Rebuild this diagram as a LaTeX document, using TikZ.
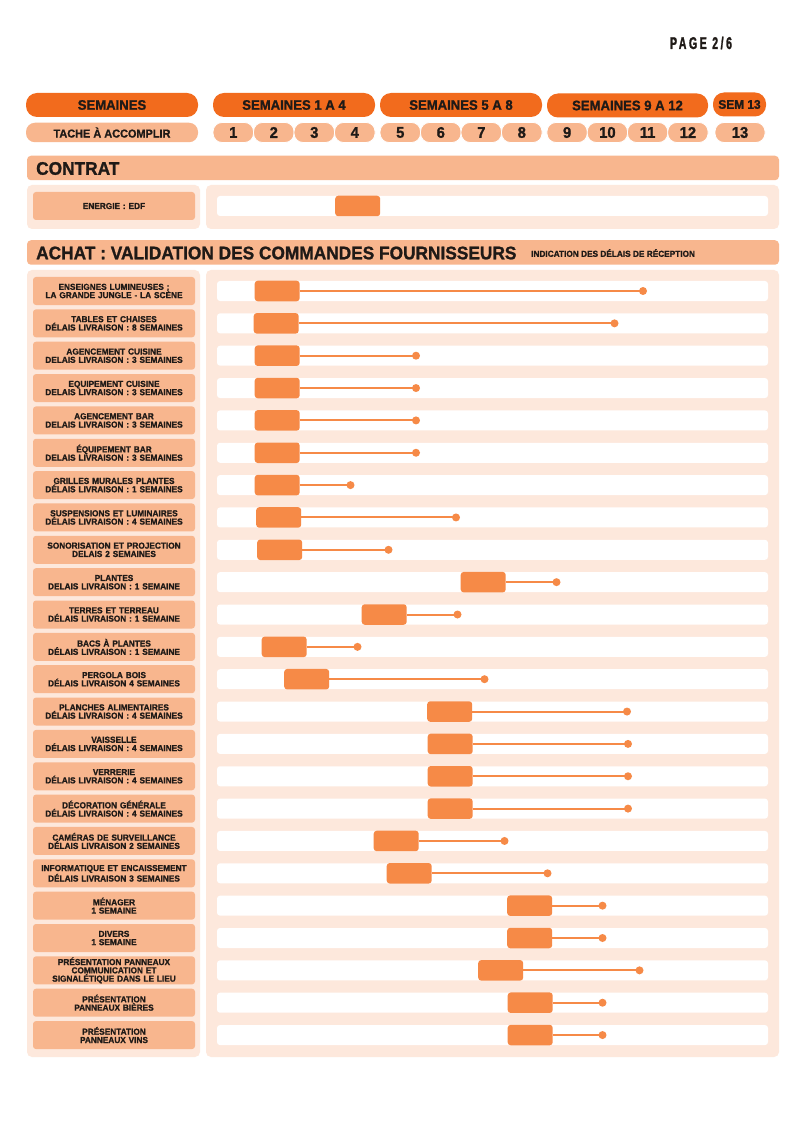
\documentclass[tikz,border=0pt]{standalone}
\usepackage{fontspec}
\setmainfont{Liberation Sans Bold}[FakeStretch=0.95,FakeBold=1.2]
\newfontfamily\pagefont{Liberation Sans Bold}[FakeStretch=0.62,LetterSpace=15,FakeBold=1.5]
\definecolor{dorange}{HTML}{F26B1D}
\definecolor{lorange}{HTML}{F8B68E}
\definecolor{panelc}{HTML}{FDE8DC}
\definecolor{blockc}{HTML}{F68A47}
\definecolor{ink}{HTML}{1F1A17}
\begin{document}
\begin{tikzpicture}[x=1pt,y=-1pt,
  hdr/.style={fill=dorange, rounded corners=11pt, minimum height=24pt, inner sep=0pt, text=ink, font=\fontsize{13.8}{13.8}\selectfont},
  tache/.style={fill=lorange, rounded corners=9pt, minimum height=19.5pt, inner sep=0pt, text=ink, font=\fontsize{11.5}{11.5}\selectfont},
  num/.style={fill=lorange, draw=white, line width=0.8pt, rounded corners=9pt, minimum height=20pt, inner sep=0pt, text=ink, font=\fontsize{15.5}{15.5}\selectfont},
  secbar/.style={fill=lorange, rounded corners=4pt, minimum width=752pt, minimum height=24.5pt, inner sep=0pt},
  sectitle/.style={anchor=west, inner sep=0pt, text=ink, font=\fontsize{18.2}{18.2}\selectfont},
  subtitle/.style={anchor=west, inner sep=0pt, text=ink, font=\fontsize{8.7}{8.7}\selectfont},
  panel/.style={fill=panelc, rounded corners=5pt, inner sep=0pt},
  lab/.style={fill=lorange, rounded corners=3pt, minimum width=162pt, minimum height=28pt, text width=160pt, align=center, inner sep=0pt, text=ink, font=\fontsize{8.7}{8.3}\selectfont},
  track/.style={fill=white, rounded corners=3pt, minimum width=551pt, minimum height=20pt, inner sep=0pt},
  blk/.style={fill=blockc, rounded corners=3pt, minimum width=45pt, minimum height=20.5pt, inner sep=0pt, anchor=west},
  enddot/.style={circle, fill=blockc, minimum size=8pt, inner sep=0pt},
  conn/.style={draw=blockc, line width=2pt}
]
\useasboundingbox (0,0) rectangle (800,1131);
\fill[white] (0,0) rectangle (800,1131);

% page number
\node[inner sep=0pt, text=ink, font=\pagefont\fontsize{17}{17}\selectfont] (page) at (701,43) {PAGE 2/6};

% header row 1
\node[hdr, minimum width=172pt] (h0) at (112,105) {SEMAINES};
\node[hdr, minimum width=162pt] (h1) at (294,105) {SEMAINES 1 A 4};
\node[hdr, minimum width=162pt] (h2) at (461,105) {SEMAINES 5 A 8};
\node[hdr, minimum width=161pt] (h3) at (627.5,105.5) {SEMAINES 9 A 12};
\node[hdr, minimum width=53pt, font=\fontsize{12.5}{12.5}\selectfont] (h4) at (739.5,104.5) {SEM 13};

% header row 2
\node[tache, minimum width=172pt] (t0) at (112,132.5) {TACHE À ACCOMPLIR};
\foreach \k/\cx/\w in {1/233.3/40.5, 2/273.8/40.5, 3/314.3/40.5, 4/354.8/40.5,
                      5/400.3/40.5, 6/440.8/40.5, 7/481.3/40.5, 8/521.8/40.5,
                      9/567.1/40.3, 10/607.4/40.3, 11/647.6/40.3, 12/687.9/40.3,
                      13/740/50} {
  \node[num, minimum width=\w pt] (n\k) at (\cx,132.5) {\k};
}

% CONTRAT section
\node[secbar] (cbar) at (403,168) {};
\node[sectitle] (ctitle) at (36,168.5) {CONTRAT};
\node[panel, minimum width=173pt, minimum height=44pt] (cpl) at (113.5,207) {};
\node[panel, minimum width=573pt, minimum height=44pt] (cpr) at (492.5,207) {};
\node[lab] (cl) at (114,206) {ENERGIE : EDF};
\node[track] (ct) at (492.5,206) {};
\node[blk] (cb) at (335,206) {};

% ACHAT section
\node[secbar] (abar) at (403,252.5) {};
\node[sectitle] (atitle) at (36,253) {ACHAT : VALIDATION DES COMMANDES FOURNISSEURS};
\node[subtitle] (asub) at (531,253) {INDICATION DES DÉLAIS DE RÉCEPTION};
\node[panel, minimum width=173pt, minimum height=787pt] (apl) at (113.5,663.5) {};
\node[panel, minimum width=573pt, minimum height=787pt] (apr) at (492.5,663.5) {};

\foreach \i/\bl/\dx/\txt in {
  1/254.5/643/{ENSEIGNES LUMINEUSES :\\LA GRANDE JUNGLE - LA SCÈNE},
  2/253.5/614.5/{TABLES ET CHAISES\\DÉLAIS LIVRAISON : 8 SEMAINES},
  3/254.5/416/{AGENCEMENT CUISINE\\DELAIS LIVRAISON : 3 SEMAINES},
  4/254.5/416/{EQUIPEMENT CUISINE\\DELAIS LIVRAISON : 3 SEMAINES},
  5/254.5/416/{AGENCEMENT BAR\\DELAIS LIVRAISON : 3 SEMAINES},
  6/254.5/416/{ÉQUIPEMENT BAR\\DELAIS LIVRAISON : 3 SEMAINES},
  7/254.5/350.5/{GRILLES MURALES PLANTES\\DÉLAIS LIVRAISON : 1 SEMAINES},
  8/256/456/{SUSPENSIONS ET LUMINAIRES\\DÉLAIS LIVRAISON : 4 SEMAINES},
  9/257/388.5/{SONORISATION ET PROJECTION\\DELAIS 2 SEMAINES},
  10/460.5/556.5/{PLANTES\\DELAIS LIVRAISON : 1 SEMAINE},
  11/361.5/457.5/{TERRES ET TERREAU\\DÉLAIS LIVRAISON : 1 SEMAINE},
  12/261.5/357.5/{BACS À PLANTES\\DÉLAIS LIVRAISON : 1 SEMAINE},
  13/284/484.5/{PERGOLA BOIS\\DÉLAIS LIVRAISON 4 SEMAINES},
  14/427/627/{PLANCHES ALIMENTAIRES\\DÉLAIS LIVRAISON : 4 SEMAINES},
  15/427.5/628/{VAISSELLE\\DÉLAIS LIVRAISON : 4 SEMAINES},
  16/427.5/628/{VERRERIE\\DÉLAIS LIVRAISON : 4 SEMAINES},
  17/427.5/628/{DÉCORATION GÉNÉRALE\\DÉLAIS LIVRAISON : 4 SEMAINES},
  18/373.5/504.5/{CAMÉRAS DE SURVEILLANCE\\DÉLAIS LIVRAISON 2 SEMAINES},
  19/386.5/547.5/{INFORMATIQUE ET ENCAISSEMENT\\DÉLAIS LIVRAISON 3 SEMAINES},
  20/507/602.5/{MÉNAGER\\1 SEMAINE},
  21/507/602.5/{DIVERS\\1 SEMAINE},
  22/478/639.5/{PRÉSENTATION PANNEAUX\\COMMUNICATION ET\\SIGNALÉTIQUE DANS LE LIEU},
  23/507.5/602.5/{PRÉSENTATION\\PANNEAUX BIÈRES},
  24/507.5/602.5/{PRÉSENTATION\\PANNEAUX VINS}} {
  \pgfmathsetmacro\yy{291+32.35*(\i-1)}
  \node[lab] (l\i) at (114,\yy) {\txt};
  \node[track] (tr\i) at (492.5,\yy) {};
  \node[enddot] (d\i) at (\dx,\yy) {};
  \node[blk] (b\i) at (\bl,\yy) {};
  \draw[conn] (b\i.east) -- (d\i.center);
}
\end{tikzpicture}
\end{document}
